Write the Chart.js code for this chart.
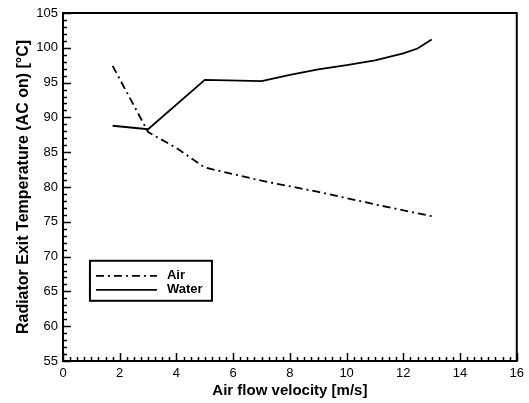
<!DOCTYPE html>
<html>
<head>
<meta charset="utf-8">
<script src="https://cdn.jsdelivr.net/npm/chart.js@4/dist/chart.umd.min.js"></script>
<style>
  html, body { margin: 0; padding: 0; background: #fff; }
  #wrap { width: 529px; height: 403px; position: relative; }
</style>
</head>
<body>
<div id="wrap"><canvas id="c" width="529" height="403"></canvas></div>
<script>
// ---- Data ----
const airX = [1.75, 3, 4, 5, 7, 9, 11, 13];
const airY = [97.4, 87.9, 85.6, 82.8, 80.9, 79.3, 77.5, 75.8];
const waterX = [1.75, 3, 5, 7, 8, 9, 10, 11, 12, 12.5, 13];
const waterY = [88.8, 88.3, 95.4, 95.2, 96.1, 96.9, 97.5, 98.2, 99.2, 99.9, 101.2];
const seriesLabels = ["Air", "Water"];
const xTicks = [0, 2, 4, 6, 8, 10, 12, 14, 16];
const yTicks = [55, 60, 65, 70, 75, 80, 85, 90, 95, 100, 105];
const xTitle = "Air flow velocity [m/s]";
const yTitle = "Radiator Exit Temperature (AC on) [°C]";

const FONT = "'Liberation Sans', Arial, Helvetica, sans-serif";

function toPoints(xs, ys) { return xs.map((x, i) => ({ x: x, y: ys[i] })); }

const framePlugin = {
  id: 'frame',
  afterDatasetsDraw(chart) {
    const ctx = chart.ctx;
    const a = chart.chartArea;
    const xs = chart.scales.x, ys = chart.scales.y;
    ctx.save();
    ctx.strokeStyle = '#000';
    // inward ticks on bottom axis
    ctx.lineWidth = 1.5;
    const xMin = xs.min, xMax = xs.max;
    for (let i = 0; xMin + i * 0.25 <= xMax + 1e-9; i++) {
      const v = xMin + i * 0.25;
      const px = Math.round(xs.getPixelForValue(v)) + 0.5;
      const major = Math.abs(v / 2 - Math.round(v / 2)) < 1e-9;
      const len = major ? 8 : 4;
      ctx.beginPath();
      ctx.moveTo(px, a.bottom);
      ctx.lineTo(px, a.bottom - len);
      ctx.stroke();
    }
    // inward ticks on left axis
    const yMin = ys.min, yMax = ys.max;
    for (let v = yMin; v <= yMax + 1e-9; v += 1) {
      const py = Math.round(ys.getPixelForValue(v)) + 0.5;
      const major = Math.abs(v / 5 - Math.round(v / 5)) < 1e-9;
      const len = major ? 8 : 4;
      ctx.beginPath();
      ctx.moveTo(a.left, py);
      ctx.lineTo(a.left + len, py);
      ctx.stroke();
    }
    // frame
    ctx.lineWidth = 2;
    ctx.strokeRect(a.left, a.top, a.right - a.left, a.bottom - a.top);

    // legend box
    const bx = xs.getPixelForValue(0.95), by = ys.getPixelForValue(69.4);
    const bw = 122, bh = 40;
    ctx.lineWidth = 2;
    ctx.fillStyle = '#fff';
    ctx.fillRect(bx, by, bw, bh);
    ctx.strokeRect(bx, by, bw, bh);
    const dsets = chart.data.datasets;
    ctx.font = "bold 13px " + FONT;
    ctx.textBaseline = 'middle';
    ctx.fillStyle = '#000';
    dsets.forEach((ds, i) => {
      const ly = by + 15 + i * 14;
      ctx.beginPath();
      ctx.lineWidth = ds.borderWidth;
      ctx.setLineDash(ds.borderDash || []);
      ctx.moveTo(bx + 6, ly);
      ctx.lineTo(bx + 67, ly);
      ctx.stroke();
      ctx.setLineDash([]);
      ctx.fillText(ds.label, bx + 77, ly);
    });
    ctx.restore();
  }
};

new Chart(document.getElementById('c'), {
  type: 'line',
  data: {
    datasets: [
      {
        label: seriesLabels[0],
        data: toPoints(airX, airY),
        borderColor: '#000',
        borderWidth: 1.8,
        borderDash: [8, 4, 2, 4],
        pointRadius: 0,
        fill: false,
        tension: 0
      },
      {
        label: seriesLabels[1],
        data: toPoints(waterX, waterY),
        borderColor: '#000',
        borderWidth: 1.8,
        pointRadius: 0,
        fill: false,
        tension: 0
      }
    ]
  },
  options: {
    responsive: false,
    animation: false,
    devicePixelRatio: 1,
    layout: { padding: { left: 0, top: 13, right: 12, bottom: 0 } },
    plugins: { legend: { display: false }, tooltip: { enabled: false }, title: { display: false } },
    scales: {
      x: {
        type: 'linear',
        min: 0, max: 16,
        afterFit(s) { s.height = 42; },
        afterBuildTicks(s) { s.ticks = xTicks.map(v => ({ value: v })); },
        grid: { display: false, drawTicks: false, tickLength: 0 },
        border: { display: false },
        ticks: { color: '#000', font: { family: FONT, size: 13 }, padding: 5, maxRotation: 0, autoSkip: false },
        title: { display: true, text: xTitle, color: '#000', font: { family: FONT, size: 15, weight: 'bold' }, padding: { top: 0, bottom: 3 } }
      },
      y: {
        type: 'linear',
        min: 55, max: 105,
        afterFit(s) { s.width = 63; },
        afterBuildTicks(s) { s.ticks = yTicks.map(v => ({ value: v })); },
        grid: { display: false, drawTicks: false, tickLength: 0 },
        border: { display: false },
        ticks: { color: '#000', font: { family: FONT, size: 13 }, padding: 5, autoSkip: false },
        title: { display: true, text: yTitle, color: '#000', font: { family: FONT, size: 16, weight: 'bold' }, padding: { top: 14, bottom: 0 } }
      }
    }
  },
  plugins: [framePlugin]
});
</script>
</body>
</html>
